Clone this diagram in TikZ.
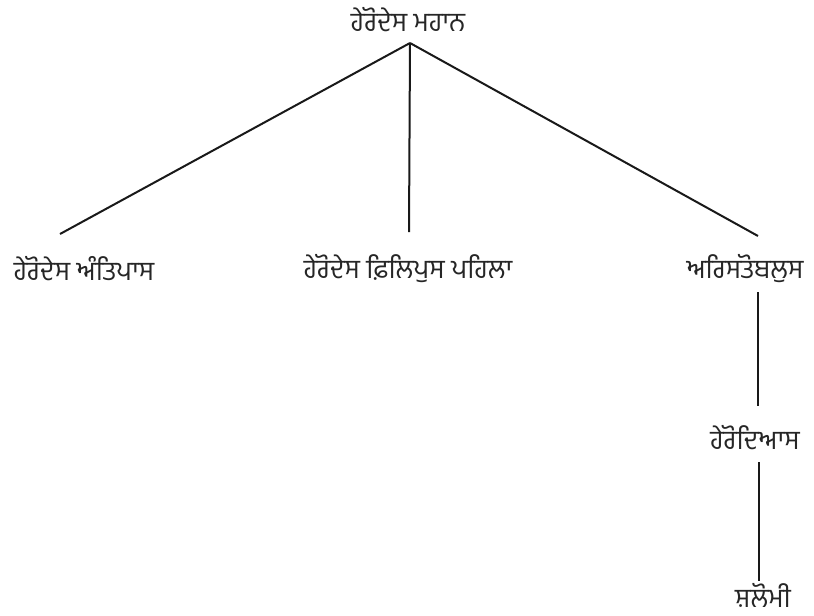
\documentclass[tikz,border=0pt]{standalone}
\usepackage{fontspec}
\newfontfamily\gurfont[Script=Gurmukhi]{Hind Jalandhar}
\begin{document}
\begin{tikzpicture}[x=0.75pt,y=-0.75pt,
  lbl/.style={font=\gurfont\fontsize{20}{24}\selectfont, text=black!85, inner sep=0pt},
  edge/.style={draw=black!90, line width=1.5pt}]
\useasboundingbox (0,0) rectangle (814,615);
\node[lbl] (root) at (408,20) {ਹੇਰੋਦੇਸ ਮਹਾਨ};
\node[lbl] (c1) at (84,269) {ਹੇਰੋਦੇਸ ਅੰਤਿਪਾਸ};
\node[lbl] (c2) at (408,269) {ਹੇਰੋਦੇਸ ਫ਼ਿਲਿਪੁਸ ਪਹਿਲਾ};
\node[lbl] (c3) at (745,269) {ਅਰਿਸਤੋਬਲੁਸ};
\node[lbl] (c4) at (755,438) {ਹੇਰੋਦਿਆਸ};
\node[lbl] (c5) at (763,595) {ਸ਼ਲੋਮੀ};
\coordinate (top) at ([shift={(2,23)}]root.center);
\draw[edge] (top) -- ([shift={(-24,-35)}]c1.center);
\draw[edge] (top) -- ([shift={(1,-37)}]c2.center);
\draw[edge] (top) -- ([shift={(13,-33)}]c3.center);
\draw[edge] ([shift={(13,23)}]c3.center) -- ([shift={(3,-32)}]c4.center);
\draw[edge] ([shift={(4,24)}]c4.center) -- ([shift={(-4,-14)}]c5.center);
\end{tikzpicture}
\end{document}
